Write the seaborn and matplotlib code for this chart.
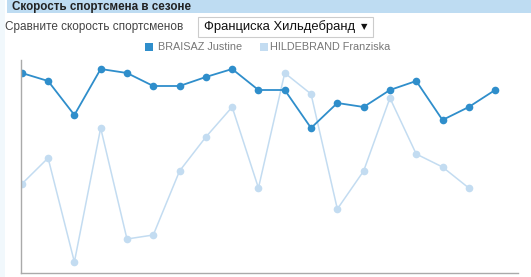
import matplotlib
matplotlib.use("Agg")
import matplotlib.pyplot as plt
import seaborn as sns
import pandas as pd
from matplotlib.patches import Rectangle

# Data (arbitrary speed units)
braisaz = [200, 192, 158, 204, 200, 187, 187, 196, 204, 183, 183, 145, 170, 166, 183, 192, 153, 166, 183]
hildebrand = [89, 115, 11, 145, 34, 38, 102, 136, 166, 85, 200, 179, 64, 102, 175, 119, 106, 85]
names = ["BRAISAZ Justine", "HILDEBRAND Franziska"]
title = "Скорость спортсмена в сезоне"
compare_label = "Сравните скорость спортсменов"
dropdown = "Франциска Хильдебранд"
arrow = "▼"

dark = "#2f8ecb"
light = "#c3dcf1"

rows = []
for i, v in enumerate(braisaz):
    rows.append({"race": i, "speed": v, "athlete": names[0]})
for i, v in enumerate(hildebrand):
    rows.append({"race": i, "speed": v, "athlete": names[1]})
df = pd.DataFrame(rows)

sns.set_theme(style="white")
plt.rcParams['font.family'] = ['Liberation Sans', 'DejaVu Sans']

W, H = 531, 277
fig = plt.figure(figsize=(W / 100, H / 100), dpi=100)
fig.patch.set_facecolor("white")

# left stripe and header band
fig.patches.append(Rectangle((0, 0), 5 / W, 1, transform=fig.transFigure,
                             facecolor="#f1f8fc", edgecolor="none", zorder=0))
fig.patches.append(Rectangle((7 / W, 1 - 13 / H), 1, 13 / H, transform=fig.transFigure,
                             facecolor="#bedcf2", edgecolor="none", zorder=0))
fig.text(12 / W, 1 - 6.8 / H, title, fontsize=8.4, fontweight="bold",
         color="#222222", va="center", ha="left")

fig.text(5 / W, 1 - 27 / H, compare_label, fontsize=8.5, color="#444444",
         va="center", ha="left")
fig.patches.append(Rectangle((198 / W, 1 - 37 / H), 175 / W, 20 / H,
                             transform=fig.transFigure, facecolor="white",
                             edgecolor="#cccccc", linewidth=0.8))
fig.text(204 / W, 1 - 27 / H, dropdown, fontsize=9.4, color="#111111",
         va="center", ha="left")
fig.text(361 / W, 1 - 26.5 / H, arrow, fontsize=6, color="#111111",
         va="center", ha="left", family=['DejaVu Sans'])

# legend
fig.patches.append(Rectangle((145 / W, 1 - 51 / H), 8 / W, 8 / H,
                             transform=fig.transFigure, facecolor=dark, edgecolor="none"))
fig.text(158 / W, 1 - 47.5 / H, names[0], fontsize=7.8, color="#777777", va="center")
fig.patches.append(Rectangle((260 / W, 1 - 51 / H), 8 / W, 8 / H,
                             transform=fig.transFigure, facecolor=light, edgecolor="none"))
fig.text(270 / W, 1 - 47.5 / H, names[1], fontsize=7.8, color="#777777", va="center")

ax = fig.add_axes([21 / W, 4 / H, (518 - 21) / W, (273 - 60) / H])
ax.set_facecolor("none")
sns.lineplot(data=df[df.athlete == names[1]], x="race", y="speed", color=light,
             marker="o", markersize=5.5, markeredgewidth=0, linewidth=1.1, ax=ax, legend=False)
sns.lineplot(data=df[df.athlete == names[0]], x="race", y="speed", color=dark,
             marker="o", markersize=5.5, markeredgewidth=0, linewidth=1.3, ax=ax, legend=False)

ax.set_xlim(-0.03, (518 - 21.7) / 26.3)
ax.set_ylim(0, 213)
ax.set_xticks([])
ax.set_yticks([])
ax.set_xlabel("")
ax.set_ylabel("")
for s in ["top", "right"]:
    ax.spines[s].set_visible(False)
for s in ["left", "bottom"]:
    ax.spines[s].set_color("#aaaaaa")
    ax.spines[s].set_linewidth(1.0)

fig.savefig("out.png", dpi=100)
